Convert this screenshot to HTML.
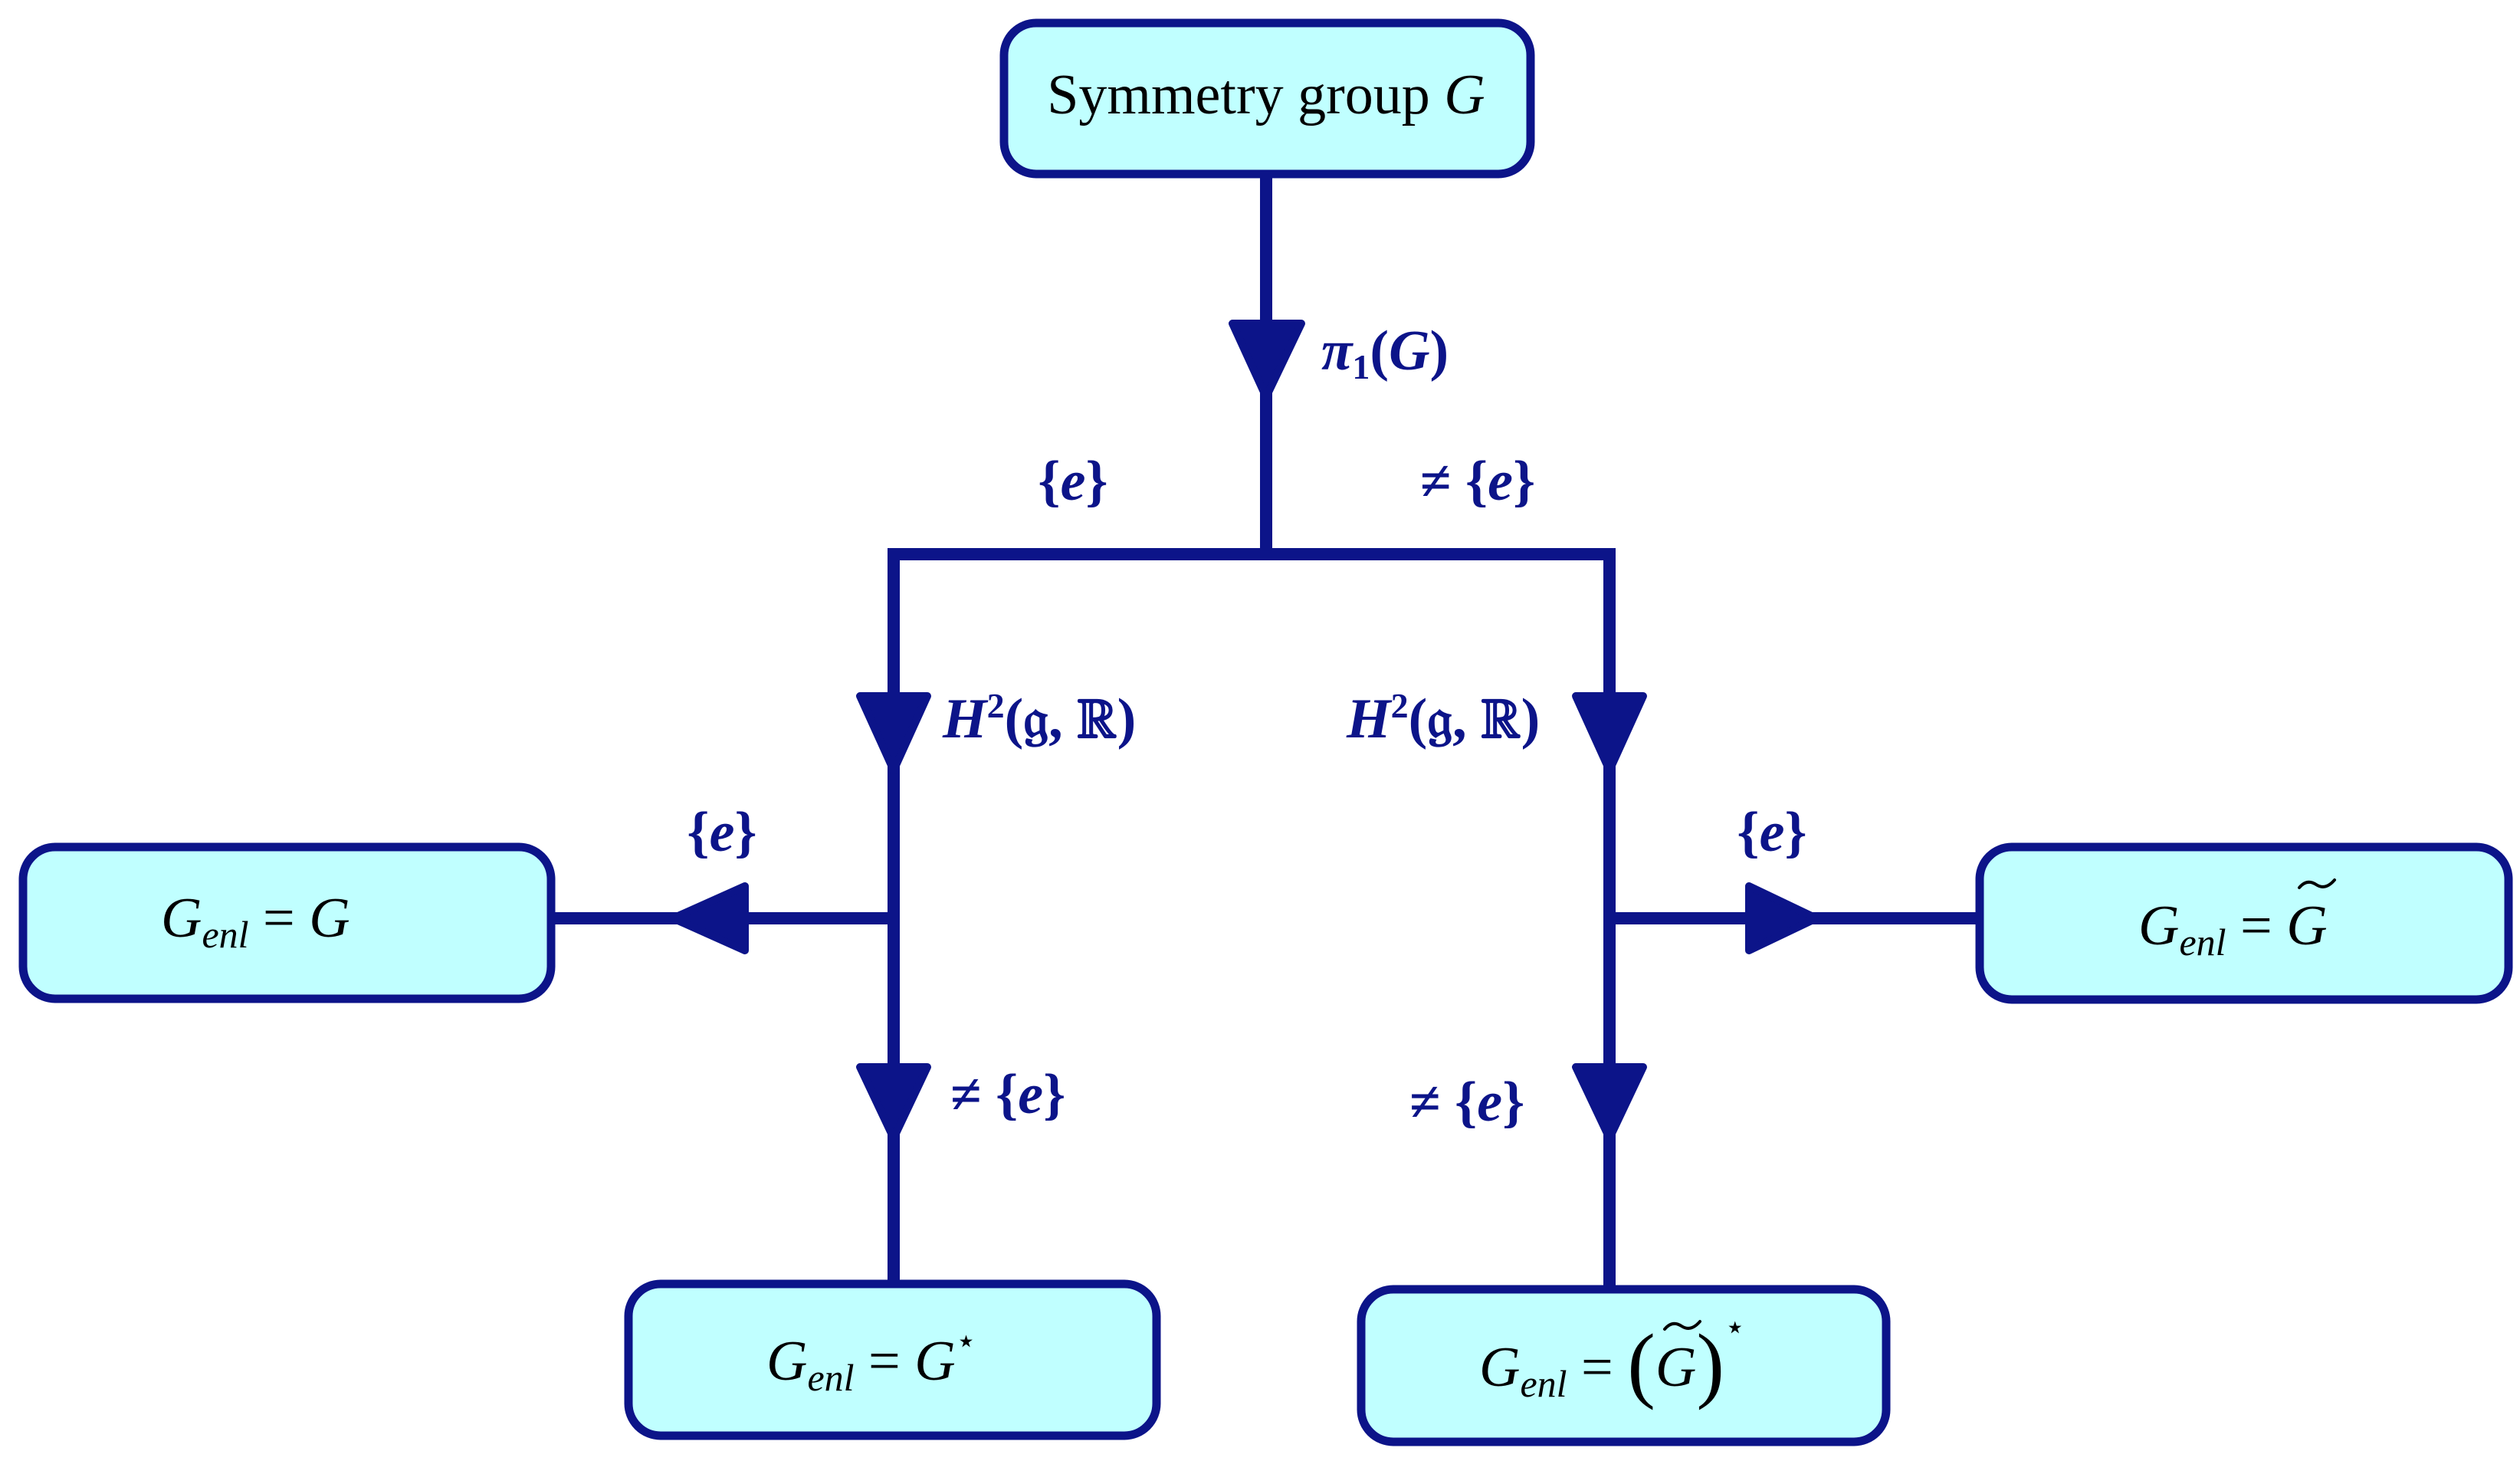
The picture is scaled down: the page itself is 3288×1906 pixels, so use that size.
<!DOCTYPE html>
<html><head><meta charset="utf-8"><style>
html,body{margin:0;padding:0;background:#fff;}
svg{display:block;}
.box{fill:#c0ffff;stroke:#0c1489;stroke-width:11;}
.ln{stroke:#0c1489;stroke-width:16;fill:none;}
.ar{fill:#0c1489;stroke:#0c1489;stroke-width:10;stroke-linejoin:round;}
.t{font-family:"Liberation Serif",serif;font-size:74px;fill:#000;}
.m{font-family:"Liberation Serif",serif;font-style:italic;font-size:74px;fill:#000;}
.lb{font-family:"Liberation Serif",serif;font-weight:bold;font-style:italic;font-size:74px;fill:#0c1489;}
.tl{fill:none;stroke:#000;stroke-width:4;stroke-linecap:round;}
</style></head><body>
<svg width="3288" height="1906" viewBox="0 0 3288 1906" xmlns="http://www.w3.org/2000/svg">
<line class="ln" x1="1652" y1="227" x2="1652" y2="723"/>
<polyline class="ln" points="1166,1675 1166,723 2100,723 2100,1682"/>
<line class="ln" x1="719" y1="1198" x2="1166" y2="1198"/>
<line class="ln" x1="2100" y1="1198" x2="2583" y2="1198"/>
<polygon class="ar" points="1608,422 1698,422 1652,518"/>
<polygon class="ar" points="1122,908 1210,908 1166,1005"/>
<polygon class="ar" points="2056,908 2144,908 2100,1005"/>
<polygon class="ar" points="1122,1392 1210,1392 1166,1485"/>
<polygon class="ar" points="2056,1392 2144,1392 2100,1485"/>
<polygon class="ar" points="972,1156 972,1240 878,1198"/>
<polygon class="ar" points="2282,1156 2282,1240 2370,1198"/>
<rect class="box" x="1310" y="30" width="687" height="197" rx="42"/>
<rect class="box" x="30" y="1105" width="689" height="198" rx="42"/>
<rect class="box" x="2583" y="1105" width="690" height="199" rx="42"/>
<rect class="box" x="820" y="1675" width="689" height="198" rx="42"/>
<rect class="box" x="1776" y="1682" width="685" height="199" rx="42"/>
<text class="t" x="1652" y="148" text-anchor="middle">Symmetry group <tspan font-style="italic">G</tspan></text>
<text class="m" x="210" y="1222">G<tspan font-size="50" dy="14">enl</tspan><tspan dy="-14" font-style="normal"> = </tspan>G</text>
<text class="m" x="2790" y="1232">G<tspan font-size="50" dy="14">enl</tspan><tspan dy="-14" font-style="normal"> = </tspan>G</text>
<path class="tl" d="M3000,1158 q10,-12 22,-4 q12,8 24,-6"/>
<text class="m" x="1000" y="1800">G<tspan font-size="50" dy="14">enl</tspan><tspan dy="-14" font-style="normal"> = </tspan>G<tspan font-style="normal" font-size="44" dy="-36">⋆</tspan></text>
<text class="m" x="1930" y="1808">G<tspan font-size="50" dy="14">enl</tspan><tspan dy="-14" font-style="normal"> = </tspan><tspan font-style="normal" font-size="110" dy="8">(</tspan><tspan dy="-8">G</tspan><tspan font-style="normal" font-size="110" dy="8">)</tspan><tspan font-style="normal" font-size="44" dy="-70">⋆</tspan></text>
<path class="tl" d="M2172,1734 q10,-12 22,-4 q12,8 24,-6"/>
<text class="lb" x="1724" y="482">π<tspan font-size="46" dy="12" font-style="normal">1</tspan><tspan dy="-12" font-style="normal">(</tspan>G<tspan font-style="normal">)</tspan></text>
<text class="lb" x="1400" y="652" text-anchor="middle"><tspan font-style="normal">{</tspan>e<tspan font-style="normal">}</tspan></text>
<text class="lb" x="1928" y="652" text-anchor="middle"><tspan font-style="normal">≠ {</tspan>e<tspan font-style="normal">}</tspan></text>
<text class="lb" x="1230" y="962">H<tspan font-size="46" dy="-26" font-style="normal">2</tspan><tspan dy="26" font-style="normal">(𝔤, ℝ)</tspan></text>
<text class="lb" x="1757" y="962">H<tspan font-size="46" dy="-26" font-style="normal">2</tspan><tspan dy="26" font-style="normal">(𝔤, ℝ)</tspan></text>
<text class="lb" x="942" y="1110" text-anchor="middle"><tspan font-style="normal">{</tspan>e<tspan font-style="normal">}</tspan></text>
<text class="lb" x="2312" y="1110" text-anchor="middle"><tspan font-style="normal">{</tspan>e<tspan font-style="normal">}</tspan></text>
<text class="lb" x="1240" y="1452"><tspan font-style="normal">≠ {</tspan>e<tspan font-style="normal">}</tspan></text>
<text class="lb" x="1839" y="1462"><tspan font-style="normal">≠ {</tspan>e<tspan font-style="normal">}</tspan></text>
</svg>
</body></html>
